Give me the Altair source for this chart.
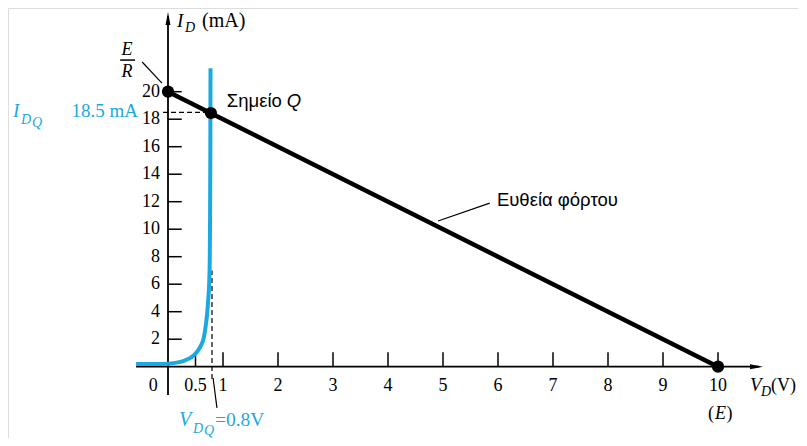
import altair as alt
import pandas as pd

# ---------------- data ----------------
ytick_vals = [2, 4, 6, 8, 10, 12, 14, 16, 18, 20]
xtick_vals = [0.5, 1, 2, 3, 4, 5, 6, 7, 8, 9, 10]
xtick_labels = ["0.5", "1", "2", "3", "4", "5", "6", "7", "8", "9", "10"]

diode_v = [-0.58, -0.2, 0.0, 0.1, 0.2, 0.3, 0.4, 0.5, 0.55, 0.6, 0.65, 0.68, 0.71, 0.73, 0.75, 0.76, 0.765, 0.77, 0.773]
diode_i = [0.2, 0.2, 0.22, 0.26, 0.33, 0.45, 0.62, 0.95, 1.2, 1.55, 2.1, 2.8, 3.8, 4.8, 6.2, 8.0, 11, 16, 21.7]

load_v = [0, 10]
load_i = [20, 0]

pts_v = [0, 0.78, 10]
pts_i = [20, 18.45, 0]

IDQ = 18.5
VDQ = 0.8

BLUE = "#1BA9E2"
SERIF = "Liberation Serif"
SANS = "Liberation Sans"

# ---------------- scales ----------------
W, H = 790, 430
x0 = -160 / 55
x1 = x0 + W / 55
y1 = (366.7 - 8) / 13.75
y0 = y1 - H / 13.75
xs = alt.Scale(domain=[x0, x1], nice=False, zero=False)
ys = alt.Scale(domain=[y0, y1], nice=False, zero=False)


def X(f="x"):
    return alt.X(f"{f}:Q", scale=xs, axis=None)


def Y(f="y"):
    return alt.Y(f"{f}:Q", scale=ys, axis=None)


def seg(rows, **mk):
    df = pd.DataFrame(rows, columns=["x", "y", "x2", "y2"])
    return alt.Chart(df).mark_rule(**mk).encode(x=X(), y=Y(), x2="x2:Q", y2="y2:Q")


def txt(rows, **mk):
    df = pd.DataFrame(rows, columns=["x", "y", "t"])
    return alt.Chart(df).mark_text(**mk).encode(x=X(), y=Y(), text="t:N")


layers = []

# ticks
layers.append(seg([[0, v, 0.25, v] for v in ytick_vals], color="black", strokeWidth=1.5))
layers.append(seg([[v, 0, v, 1.05] for v in xtick_vals], color="black", strokeWidth=1.5))

# axes
layers.append(seg([[-0.58, 0, 10.75, 0], [0, -2.06, 0, 25.5]], color="black", strokeWidth=1.8))
arrow_df = pd.DataFrame({"x": [10.7], "y": [0]})
layers.append(alt.Chart(arrow_df).mark_point(shape="M-1,-0.38L1,0L-1,0.38Z", filled=True, size=169,
                                             color="black", opacity=1, strokeWidth=0).encode(x=X(), y=Y()))
arrow_df2 = pd.DataFrame({"x": [0], "y": [25.32]})
layers.append(alt.Chart(arrow_df2).mark_point(shape="M-0.38,1L0,-1L0.38,1Z", filled=True, size=169,
                                              color="black", opacity=1, strokeWidth=0).encode(x=X(), y=Y()))

# dashed guide lines
layers.append(seg([[-0.09, IDQ, 0.67, IDQ], [VDQ, -0.9, VDQ, 7]], color="black", strokeWidth=1.2,
                  strokeDash=[5, 3]))

# load line
load_df = pd.DataFrame({"x": load_v, "y": load_i})
layers.append(alt.Chart(load_df).mark_line(color="black", strokeWidth=4.5).encode(x=X(), y=Y()))

# diode curve
diode_df = pd.DataFrame({"x": diode_v, "y": diode_i, "o": list(range(len(diode_v)))})
layers.append(alt.Chart(diode_df).mark_line(color=BLUE, strokeWidth=4, interpolate="monotone")
              .encode(x=X(), y=Y(), order="o:Q"))

# points
pts_df = pd.DataFrame({"x": pts_v, "y": pts_i})
layers.append(alt.Chart(pts_df).mark_point(filled=True, size=150, color="black", opacity=1)
              .encode(x=X(), y=Y()))

# leader lines and fraction bar
layers.append(seg([[-0.47, 22.16, -0.11, 20.63],
                   [4.91, 10.6, 5.85, 11.9],
                   [0.82, -0.82, 0.89, -3.0]], color="black", strokeWidth=1.2))
layers.append(seg([[-0.87, 22.3, -0.6, 22.3]], color="black", strokeWidth=1.5))

# tick labels
layers.append(txt([[-0.145, v, str(v)] for v in ytick_vals], font=SERIF, fontSize=18,
                  align="right", baseline="middle", color="black"))
layers.append(txt([[v, -1.77, l] for v, l in zip(xtick_vals, xtick_labels)] + [[-0.27, -1.77, "0"]],
                  font=SERIF, fontSize=18, align="center", baseline="alphabetic", color="black"))

# axis titles
layers.append(txt([[0, 24.7, "I"]], font=SERIF, fontSize=19, fontStyle="italic", align="left",
                  baseline="alphabetic", dx=9))
layers.append(txt([[0, 24.7, "D"]], font=SERIF, fontSize=14, fontStyle="italic", align="left",
                  baseline="alphabetic", dx=17, dy=5))
layers.append(txt([[0, 24.7, "(mA)"]], font=SERIF, fontSize=20, align="left",
                  baseline="alphabetic", dx=34))

layers.append(txt([[10, -1.77, "V"]], font=SERIF, fontSize=19, fontStyle="italic", align="left",
                  baseline="alphabetic", dx=32))
layers.append(txt([[10, -1.77, "D"]], font=SERIF, fontSize=14, fontStyle="italic", align="left",
                  baseline="alphabetic", dx=43, dy=5))
layers.append(txt([[10, -1.77, "(V)"]], font=SERIF, fontSize=18, align="left",
                  baseline="alphabetic", dx=53))

# (E)
layers.append(txt([[10, -3.8, "("]], font=SERIF, fontSize=18, align="right", baseline="alphabetic", dx=-4))
layers.append(txt([[10, -3.8, "E"]], font=SERIF, fontSize=18, fontStyle="italic", align="center",
                  baseline="alphabetic", dx=2.5))
layers.append(txt([[10, -3.8, ")"]], font=SERIF, fontSize=18, align="left", baseline="alphabetic", dx=8.5))

# E / R
layers.append(txt([[0, 22.67, "E"], [0, 21.07, "R"]], font=SERIF, fontSize=18, fontStyle="italic",
                  align="center", baseline="alphabetic", dx=-41))

# I_DQ and 18.5 mA
layers.append(txt([[-2.82, 18.16, "I"]], font=SERIF, fontSize=19, fontStyle="italic", align="left",
                  baseline="alphabetic", color=BLUE))
layers.append(txt([[-2.82, 18.16, "D"]], font=SERIF, fontSize=14, fontStyle="italic", align="left",
                  baseline="alphabetic", color=BLUE, dx=8, dy=7))
layers.append(txt([[-2.82, 18.16, "Q"]], font=SERIF, fontSize=14, fontStyle="italic", align="left",
                  baseline="alphabetic", color=BLUE, dx=19, dy=10))
layers.append(txt([[-0.545, 18.16, "18.5 mA"]], font=SERIF, fontSize=19, align="right",
                  baseline="alphabetic", color=BLUE))

# V_DQ = 0.8V
layers.append(txt([[0.2, -4.3, "V"]], font=SERIF, fontSize=20, fontStyle="italic", align="left",
                  baseline="alphabetic", color=BLUE))
layers.append(txt([[0.2, -4.3, "D"]], font=SERIF, fontSize=14, fontStyle="italic", align="left",
                  baseline="alphabetic", color=BLUE, dx=14, dy=7))
layers.append(txt([[0.2, -4.3, "Q"]], font=SERIF, fontSize=14, fontStyle="italic", align="left",
                  baseline="alphabetic", color=BLUE, dx=25, dy=9))
layers.append(txt([[0.2, -4.3, "=0.8V"]], font=SERIF, fontSize=19.5, align="left",
                  baseline="alphabetic", color=BLUE, dx=36))

# sans annotations
layers.append(txt([[1.07, 19.32, "Σημείο"]], font=SANS, fontSize=18.5, align="left", baseline="middle"))
layers.append(txt([[1.07, 19.32, "Q"]], font=SANS, fontSize=18.5, fontStyle="italic", align="left",
                  baseline="middle", dx=60))
layers.append(txt([[5.98, 12.12, "Ευθεία φόρτου"]], font=SANS, fontSize=18.5, align="left",
                  baseline="middle"))

chart = alt.layer(*layers).properties(
    width=W, height=H, autosize=alt.AutoSizeParams(type="none"), padding=0
).configure_view(strokeWidth=0, stroke="transparent").configure(background="white")

chart.save("out.html", embed_options={"renderer": "svg", "actions": False})
